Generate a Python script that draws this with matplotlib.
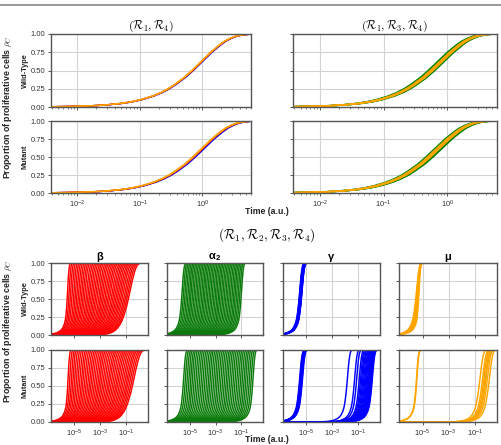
import numpy as np
import matplotlib.pyplot as plt
from matplotlib.lines import Line2D
from matplotlib.ticker import NullLocator

plt.rcParams['font.family'] = ['Liberation Sans', 'DejaVu Sans']
plt.rcParams['mathtext.fontset'] = 'cm'

# proportion levels at which the curve shapes were read off, and the distance
# (in decades of time) from the half-way point p = 0.5.
# slow_shape: the wide curves (top row, right-most beta); fast_shape: the steep ones
p_levels = [0.0, 0.003, 0.006, 0.01, 0.02, 0.03, 0.05, 0.07, 0.1, 0.15, 0.2, 0.25, 0.3,
            0.4, 0.5, 0.6, 0.7, 0.75, 0.8, 0.85, 0.9, 0.94, 0.97, 0.985, 0.995, 1.0]
slow_shape = [-9.0, -2.36, -2.06, -1.84, -1.54, -1.36, -1.13, -0.98, -0.82, -0.63, -0.49, -0.38, -0.29,
              -0.13, 0.0, 0.12, 0.24, 0.30, 0.37, 0.44, 0.52, 0.61, 0.70, 0.78, 0.88, 1.3]
fast_shape = [-9.0, -1.9, -1.55, -1.3, -1.0, -0.82, -0.6, -0.46, -0.34, -0.22, -0.15, -0.11, -0.08,
              -0.035, 0.0, 0.03, 0.06, 0.075, 0.09, 0.11, 0.135, 0.16, 0.19, 0.215, 0.25, 0.4]

# ---- top: half-way time of each curve (a.u.)
r14_wt_blue = [0.70, 0.72]
r14_wt_red = [0.69, 0.70]
r14_wt_orange = [0.68, 0.69]
r14_mut_blue = [0.74, 0.78]
r14_mut_red = [0.72, 0.74]
r14_mut_orange = [0.70, 0.72]
r134_wt_green = [0.50, 0.53, 0.56, 0.59, 0.62, 0.64]
r134_wt_orange = [0.54, 0.555, 0.57, 0.585, 0.60]
r134_mut_green = [0.46, 0.49, 0.52, 0.55, 0.58, 0.60]
r134_mut_orange = [0.49, 0.505, 0.52, 0.535, 0.55]

# ---- bottom: log10 of half-way time of each curve, and how wide each curve is
# (0 = fast shape, 1 = slow shape)
beta_wt = [-5.55, -5.43, -5.31, -5.19, -5.06, -4.94, -4.82, -4.70, -4.58, -4.46,
           -4.34, -4.22, -4.09, -3.97, -3.85, -3.73, -3.61, -3.49, -3.37, -3.25,
           -3.12, -3.00, -2.88, -2.76, -2.64, -2.52, -2.40, -2.28, -2.15, -2.03,
           -1.91, -1.79, -1.67, -1.55, -1.43, -1.31, -1.18, -1.06, -0.94, -0.82]
beta_mut = [-5.51, -5.38, -5.25, -5.13, -5.00, -4.87, -4.74, -4.61, -4.48, -4.36,
            -4.23, -4.10, -3.97, -3.84, -3.72, -3.59, -3.46, -3.33, -3.20, -3.08,
            -2.95, -2.82, -2.69, -2.56, -2.43, -2.31, -2.18, -2.05, -1.92, -1.79,
            -1.67, -1.54, -1.41, -1.28, -1.15, -1.02, -0.90, -0.77, -0.64, -0.51]
beta_width = [0.0, 0.03, 0.05, 0.08, 0.10, 0.13, 0.15, 0.18, 0.21, 0.23,
              0.26, 0.28, 0.31, 0.33, 0.36, 0.38, 0.41, 0.44, 0.46, 0.49,
              0.51, 0.54, 0.56, 0.59, 0.62, 0.64, 0.67, 0.69, 0.72, 0.74,
              0.77, 0.79, 0.82, 0.85, 0.87, 0.90, 0.92, 0.95, 0.97, 1.0]
alpha_wt = [-5.66, -5.54, -5.42, -5.30, -5.18, -5.06, -4.95, -4.83, -4.71, -4.59,
            -4.47, -4.35, -4.23, -4.11, -3.99, -3.88, -3.76, -3.64, -3.52, -3.40,
            -3.28, -3.16, -3.04, -2.92, -2.80, -2.69, -2.57, -2.45, -2.33, -2.21,
            -2.09, -1.97, -1.85, -1.73, -1.61, -1.50, -1.38, -1.26, -1.14, -1.02]
alpha_mut = [-5.54, -5.40, -5.26, -5.12, -4.98, -4.85, -4.71, -4.57, -4.43, -4.29,
             -4.15, -4.01, -3.87, -3.73, -3.59, -3.46, -3.32, -3.18, -3.04, -2.90,
             -2.76, -2.62, -2.48, -2.34, -2.20, -2.07, -1.93, -1.79, -1.65, -1.51,
             -1.37, -1.23, -1.09, -0.95, -0.81, -0.68, -0.54, -0.40, -0.26, -0.12]
alpha_width = 0.1
gamma_wt = [-5.56, -5.54, -5.52, -5.50, -5.49, -5.47, -5.46, -5.45, -5.44, -5.43,
            -5.42, -5.41, -5.40, -5.39, -5.38]
gamma_mut = [-5.56, -5.53, -5.50, -5.48, -5.46, -5.44, -5.42, -5.40, -5.37, -5.34,
             -1.87, -1.31, -1.15, -0.95, -0.85, -0.76, -0.68, -0.60, -0.52, -0.45,
             -0.38, -0.31, -0.25, -0.19, -0.13, -0.08, -0.03, 0.02, 0.06]
gamma_width = 0.2
mu_wt = [-5.52, -5.48, -5.44, -5.40, -5.36, -5.33, -5.30]
mu_wt_width = [0.3, 0.2, 0.1, 0.2, 0.1, 0.0, 0.0]
mu_mut = [-5.50, -5.47, -0.67, -0.47, -0.37, -0.28, -0.21, -0.10, 0.05]
mu_mut_width = [0.1, 0.1, 0.4, 0.4, 0.4, 0.4, 0.4, 0.4, 0.4]


def curve(log_mid, width, p_min=0.0, p_max=1.0):
    xs, ys = [], []
    for p, f, s in zip(p_levels, fast_shape, slow_shape):
        if p_min <= p <= p_max:
            xs.append(10 ** (log_mid + (1 - width) * f + width * s))
            ys.append(p)
    return xs, ys


W, H = 501, 445
fig = plt.figure(figsize=(W / 100, H / 100), dpi=100)


def axes_px(x0, y0, x1, y1):
    return fig.add_axes([x0 / W, 1 - y1 / H, (x1 - x0) / W, (y1 - y0) / H])


def style(ax, xlim, show_x, show_y):
    ax.set_xscale('log')
    ax.set_xlim(*xlim)
    ax.set_ylim(0, 1)
    ax.set_yticks([0, 0.25, 0.5, 0.75, 1.0])
    ax.grid(True, which='major', color='#d3d3d3', lw=0.8)
    ax.set_axisbelow(True)
    for sp in ax.spines.values():
        sp.set_color('#555555')
        sp.set_linewidth(1.0)
    ax.tick_params(which='both', direction='out', colors='#555555', labelcolor='#333333',
                   labelsize=5.5, pad=1.5)
    ax.tick_params(which='major', length=2.5, width=0.7)
    ax.tick_params(which='minor', length=1.5, width=0.5)
    if show_y:
        ax.yaxis.set_major_formatter(plt.FormatStrFormatter('%.2f'))
    else:
        ax.set_yticklabels([])
    if not show_x:
        ax.set_xticklabels([])


# top section
top_xlim = (10 ** -2.42, 10 ** 0.78)
top_sets = [
    ((51, 34, 251, 107), [(r14_wt_blue, 'blue'), (r14_wt_red, 'red'), (r14_wt_orange, 'orange')], False, True),
    ((51, 121, 251, 193), [(r14_mut_blue, 'blue'), (r14_mut_red, 'red'), (r14_mut_orange, 'orange')], True, True),
    ((293, 34, 497, 107), [(r134_wt_green, 'green'), (r134_wt_orange, 'orange')], False, False),
    ((293, 121, 497, 193), [(r134_mut_green, 'green'), (r134_mut_orange, 'orange')], True, False),
]
top_axes = []
for box, groups, show_x, show_y in top_sets:
    ax = axes_px(*box)
    for t50s, col in groups:
        for t50 in t50s:
            xs, ys = curve(np.log10(t50), 1.0, 0.003, 0.995)
            ax.plot(xs, ys, color=col, lw=1.0)
    style(ax, top_xlim, show_x, show_y)
    top_axes.append(ax)

top_axes[0].set_title(r'$\boldsymbol{(\mathcal{R}_1, \mathcal{R}_4)}$', fontsize=8.5, pad=2)
top_axes[2].set_title(r'$\boldsymbol{(\mathcal{R}_1, \mathcal{R}_3, \mathcal{R}_4)}$', fontsize=8.5, pad=2)

# bottom section
bot_xlim = (10 ** -6.8, 10 ** 0.7)
cols = [(51, 148), (167, 263), (283, 380), (399, 497)]
rows = [(263, 335), (350, 422)]
panels = [
    ('β', 'red', [(beta_wt, beta_width), (beta_mut, beta_width)]),
    ('α$_\\mathdefault{2}$', '#0a7a0a', [(alpha_wt, [alpha_width] * len(alpha_wt)),
                                        (alpha_mut, [alpha_width] * len(alpha_mut))]),
    ('γ', 'blue', [(gamma_wt, [gamma_width] * len(gamma_wt)),
                   (gamma_mut, [gamma_width] * len(gamma_mut))]),
    ('μ', 'orange', [(mu_wt, mu_wt_width), (mu_mut, mu_mut_width)]),
]
for c, (title, col, data) in enumerate(panels):
    for r, (mids, widths) in enumerate(data):
        ax = axes_px(cols[c][0], rows[r][0], cols[c][1], rows[r][1])
        for m, w in zip(mids, widths):
            xs, ys = curve(m, w)
            ax.plot(xs, ys, color=col, lw=1.05)
        style(ax, bot_xlim, r == 1, c == 0)
        ax.set_xticks([1e-5, 1e-3, 1e-1])
        ax.xaxis.set_minor_locator(NullLocator())
        if r == 0:
            ax.set_xticklabels([])
            ax.set_title(title, fontsize=8, fontweight='bold', pad=2)

# labels
lab = dict(fontsize=6.3, fontweight='bold', color='#222222', ha='center', va='center')
fig.text(8 / W, 1 - 107.5 / H, r'Proportion of proliferative cells $\rho_C$', rotation=90, **lab)
fig.text(8 / W, 1 - 331 / H, r'Proportion of proliferative cells $\rho_C$', rotation=90, **lab)
small = dict(fontsize=5.3, fontweight='bold', color='#222222', ha='center', va='center', rotation=90)
fig.text(25 / W, 1 - 70.5 / H, 'Wild-Type', **small)
fig.text(25 / W, 1 - 157 / H, 'Mutant', **small)
fig.text(25 / W, 1 - 299 / H, 'Wild-Type', **small)
fig.text(25 / W, 1 - 386 / H, 'Mutant', **small)
fig.text(267 / W, 1 - 211 / H, 'Time (a.u.)', fontsize=6.3, fontweight='bold', color='#222222',
         ha='center', va='center')
fig.text(267 / W, 1 - 444 / H, 'Time (a.u.)', fontsize=6.3, fontweight='bold', color='#222222',
         ha='center', va='bottom')
fig.text(267 / W, 1 - 235 / H, r'$(\mathcal{R}_1, \mathcal{R}_2, \mathcal{R}_3, \mathcal{R}_4)$',
         fontsize=9.5, ha='center', va='center')

# thin frame line along the top
fig.add_artist(Line2D([0, 1], [1 - 4.5 / H, 1 - 4.5 / H], transform=fig.transFigure,
                      color='#888888', lw=1.2))

fig.savefig('out.png', dpi=100)
